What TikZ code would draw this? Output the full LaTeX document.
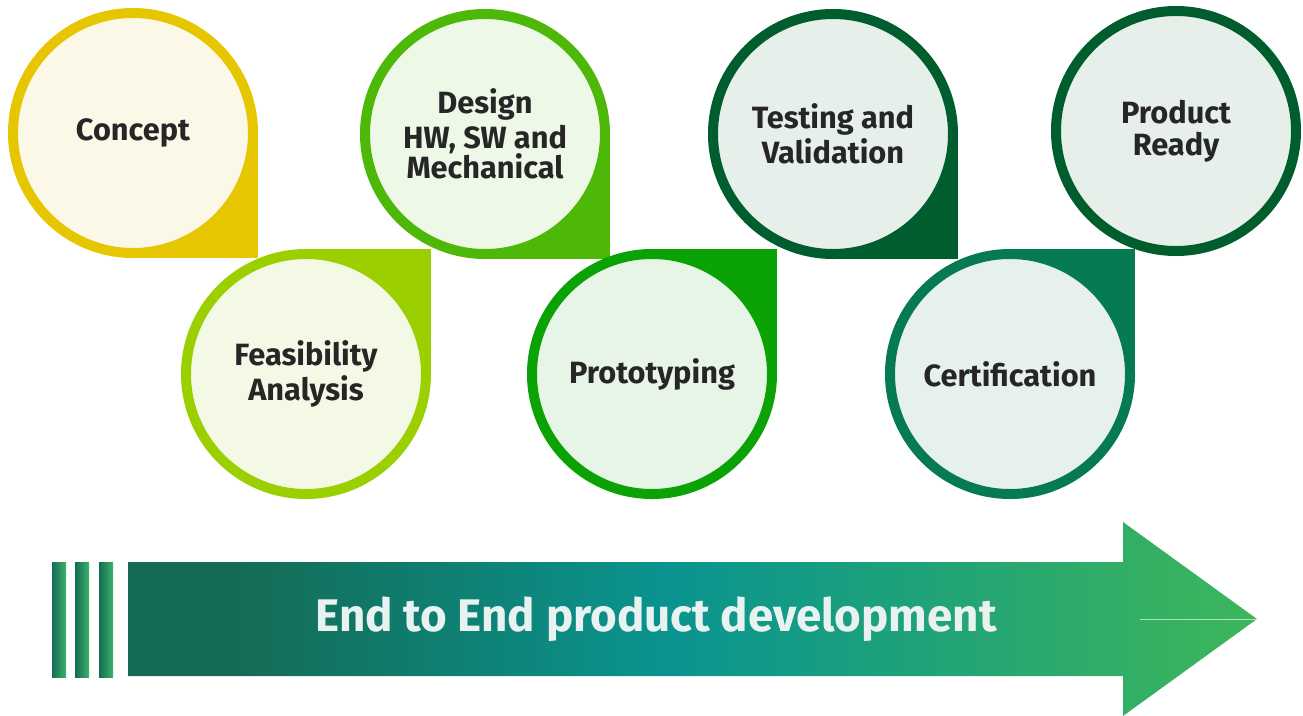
\documentclass[tikz,border=0pt]{standalone}
\usepackage{fontspec}
\setmainfont{Fira Sans}
\usetikzlibrary{backgrounds}

\definecolor{textgray}{HTML}{262626}
\definecolor{conceptring}{HTML}{E6C600}
\definecolor{conceptfill}{HTML}{FBF8E7}
\definecolor{feasring}{HTML}{9BCF00}
\definecolor{feasfill}{HTML}{F4F9E6}
\definecolor{designring}{HTML}{4DB808}
\definecolor{designfill}{HTML}{EDF8E6}
\definecolor{protoring}{HTML}{0BA206}
\definecolor{protofill}{HTML}{E6F5E5}
\definecolor{testring}{HTML}{005E2E}
\definecolor{testfill}{HTML}{E6EFEA}
\definecolor{certring}{HTML}{067B52}
\definecolor{certfill}{HTML}{E6F1EB}
\definecolor{flowA}{HTML}{146C56}
\definecolor{flowB}{HTML}{0A9490}
\definecolor{flowC}{HTML}{3DB65A}
\definecolor{barC}{HTML}{3CB36A}
\definecolor{bannertext}{HTML}{E8F3F1}

\pgfdeclarehorizontalshading{flow}{100bp}{color(0bp)=(flowA); color(30bp)=(flowA); color(49bp)=(flowB); color(75bp)=(flowC); color(100bp)=(flowC)}

\tikzset{
    stage/.style={circle, draw, line width=2mm, minimum size=48mm, inner sep=0pt, align=center,
        text=textgray, font=\fontsize{17.5}{20}\selectfont\bfseries},
    bannerlabel/.style={text=bannertext, font=\fontsize{26}{30}\selectfont\bfseries}
}

\begin{document}
\begin{tikzpicture}[x=0.2mm, y=-0.2mm]
                    \useasboundingbox (0, 0) rectangle (1303, 715);
                    % stages
                    \node [stage, draw=conceptring, fill=conceptfill] (concept) at (133, 133) {Concept};
                    \node [stage, draw=feasring, fill=feasfill] (feas) at (306, 374) {Feasibility\\Analysis};
                    \node [stage, draw=designring, fill=designfill] (design) at (485, 134) {Design\\HW, SW and\\[-3pt]Mechanical};
                    \node [stage, draw=protoring, fill=protofill] (proto) at (652, 374) {Prototyping};
                    \node [stage, draw=testring, fill=testfill] (test) at (833, 134) {Testing and\\Validation};
                    \node [stage, draw=certring, fill=certfill] (cert) at (1010, 374) {Certification};
                    \node [stage, draw=testring, fill=testfill] (ready) at (1176, 131) {Product\\[-2pt]Ready};
                    % square corners
                    \begin{scope}[on background layer]
                        \fill [conceptring] (concept.center) rectangle (concept.east |- concept.south);
                        \fill [feasring] (feas.center) rectangle (feas.east |- feas.north);
                        \fill [designring] (design.center) rectangle (design.east |- design.south);
                        \fill [protoring] (proto.center) rectangle (proto.east |- proto.north);
                        \fill [testring] (test.center) rectangle (test.east |- test.south);
                        \fill [certring] (cert.center) rectangle (cert.east |- cert.north);
                    \end{scope}
                    % arrow
                    \foreach \x in {52, 75, 99}
                        \shade [left color=flowA, right color=barC] (\x, 562) rectangle ++(14, 115);
                    \shade [shading=flow] (128, 562) -- (1123, 562) -- (1123, 522) -- (1257, 619)
                        -- (1123, 716) -- (1123, 676) -- (128, 676) -- cycle;
                    \coordinate (tip) at (1257, 619);
                    \draw [white, opacity=0.6, line width=0.4pt] (1140, 619) -- (tip);
                    \node [bannerlabel] (banner) at (656, 619) {End to End product development};
\end{tikzpicture}
\end{document}
